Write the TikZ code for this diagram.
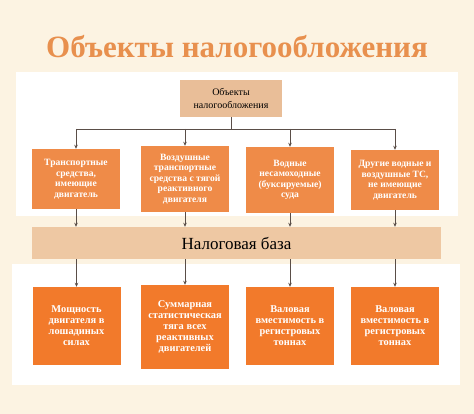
\documentclass[tikz,border=0pt]{standalone}
\usepackage{fontspec}
\setmainfont{Liberation Serif}
\usetikzlibrary{arrows.meta}
\definecolor{cream}{HTML}{FCF3E2}
\definecolor{titleor}{HTML}{E8904E}
\definecolor{tan}{HTML}{E9BE98}
\definecolor{bandtan}{HTML}{EEC8A3}
\definecolor{midor}{HTML}{EF8B48}
\definecolor{deepor}{HTML}{F27A2B}
\definecolor{arrowgray}{HTML}{5A4E48}
\tikzset{
  panel/.style={fill=white, draw=none},
  midbox/.style={fill=midor, draw=none, minimum width=88pt, align=center, text=white, font=\bfseries\fontsize{9.6}{10.5}\selectfont, inner sep=0pt},
  lowbox/.style={fill=deepor, draw=none, minimum width=88pt, align=center, text=white, font=\bfseries\fontsize{10.4}{11}\selectfont, inner sep=0pt},
  conn/.style={draw=arrowgray, line width=0.9pt},
  arr/.style={conn, -{Stealth[length=4pt,width=3.5pt]}}
}
\begin{document}
\begin{tikzpicture}[x=1pt,y=-1pt]
\path[fill=cream] (0,0) rectangle (474,414);
\useasboundingbox (0,0) rectangle (474,414);
\path[panel] (16,72) rectangle (458,216);
\path[panel] (12,264) rectangle (460,385);
\node[text=titleor, font=\bfseries\fontsize{31}{33}\selectfont] (title) at (237,47) {Объекты налогообложения};
\node[fill=tan, minimum width=102pt, minimum height=37pt, align=center, font=\fontsize{10}{12.5}\selectfont, inner sep=0pt] (top) at (231,98.5) {Объекты\\налогообложения};
\node[midbox, minimum height=60pt] (b1) at (76,179) {Транспортные\\средства,\\имеющие\\двигатель};
\node[midbox, minimum height=66pt] (b2) at (185,179) {Воздушные\\транспортные\\средства с тягой\\реактивного\\двигателя};
\node[midbox, minimum height=66pt] (b3) at (290,180) {Водные\\несамоходные\\(буксируемые)\\суда};
\node[midbox, minimum height=60pt] (b4) at (395,180) {Другие водные и\\воздушные ТС,\\не имеющие\\двигатель};
\node[fill=bandtan, minimum width=409pt, minimum height=32pt, inner sep=0pt, font=\fontsize{17}{19}\selectfont] (band) at (236.5,243) {Налоговая база};
\node[lowbox, minimum height=78pt] (c1) at (76.5,326) {Мощность\\двигателя в\\лошадиных\\силах};
\node[lowbox, minimum height=84pt] (c2) at (185,327) {Суммарная\\статистическая\\тяга всех\\реактивных\\двигателей};
\node[lowbox, minimum height=78pt] (c3) at (290,326) {Валовая\\вместимость в\\регистровых\\тоннах};
\node[lowbox, minimum height=78pt] (c4) at (395,326) {Валовая\\вместимость в\\регистровых\\тоннах};
\coordinate (j0) at (top.south |- 0,129);
\coordinate (j1) at (b1.north |- 0,129);
\coordinate (j4) at (b4.north |- 0,129);
\draw[conn] (top.south) -- (j0);
\draw[conn] (j1) -- (j4);
\foreach \b in {b1,b2,b3,b4}{
  \draw[arr] (\b.north |- 0,129) -- (\b.north);
  \draw[arr] (\b.south) -- (\b.south |- band.north);
}
\foreach \c in {c1,c2,c3,c4}{
  \draw[arr] (\c.north |- band.south) -- (\c.north);
}
\end{tikzpicture}
\end{document}
